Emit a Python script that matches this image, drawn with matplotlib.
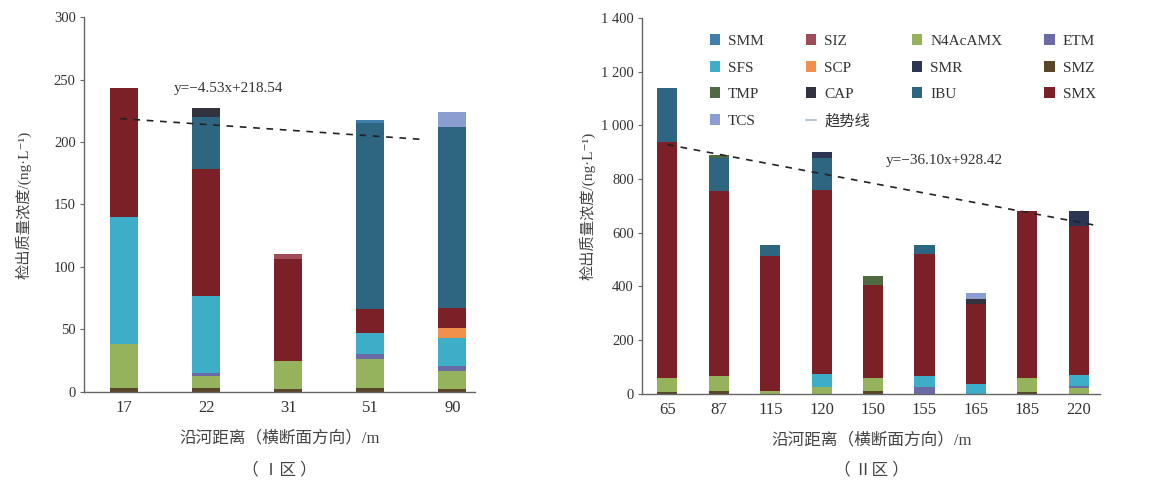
import matplotlib.pyplot as plt
import numpy as np
from matplotlib.lines import Line2D

plt.rcParams['font.family'] = ['Liberation Serif', 'Noto Sans CJK SC', 'DejaVu Sans']

# 化合物顺序（自下而上堆叠）
compounds = ['SMZ', 'N4AcAMX', 'ETM', 'SFS', 'SCP', 'SMX', 'IBU',
             'SMR', 'CAP', 'TMP', 'SMM', 'SIZ', 'TCS']
colors = {
    'SMM': '#3f7fae', 'SIZ': '#a04c58', 'N4AcAMX': '#95b35c', 'ETM': '#6a6aa6',
    'SFS': '#3eaec8', 'SCP': '#f0904a', 'SMR': '#2c3553', 'SMZ': '#5a4528',
    'TMP': '#4d6a43', 'CAP': '#33333f', 'IBU': '#2e6580', 'SMX': '#7b2026',
    'TCS': '#8a9ed2',
}

# Ⅰ区
dist1 = ['17', '22', '31', '51', '90']
zone1 = {
    'SMZ':     [3, 3, 2, 3, 2],
    'N4AcAMX': [35, 10, 23, 23, 15],
    'ETM':     [0, 2, 0, 4, 4],
    'SFS':     [102, 62, 0, 17, 22],
    'SCP':     [0, 0, 0, 0, 8],
    'SMX':     [103, 101, 81, 19, 16],
    'IBU':     [0, 42, 0, 149, 145],
    'SMR':     [0, 0, 0, 0, 0],
    'CAP':     [0, 7, 0, 0, 0],
    'TMP':     [0, 0, 0, 0, 0],
    'SMM':     [0, 0, 0, 3, 0],
    'SIZ':     [0, 0, 4, 0, 0],
    'TCS':     [0, 0, 0, 0, 12],
}
trend1 = (-4.53, 218.54)

# Ⅱ区
dist2 = ['65', '87', '115', '120', '150', '155', '165', '185', '220']
zone2 = {
    'SMZ':     [8, 10, 0, 0, 10, 0, 0, 8, 0],
    'N4AcAMX': [52, 55, 10, 25, 50, 0, 0, 52, 20],
    'ETM':     [0, 0, 0, 0, 0, 25, 0, 0, 10],
    'SFS':     [0, 0, 0, 50, 0, 40, 35, 0, 40],
    'SCP':     [0, 0, 0, 0, 0, 0, 0, 0, 0],
    'SMX':     [880, 690, 505, 685, 345, 455, 300, 620, 555],
    'IBU':     [200, 125, 40, 120, 0, 35, 0, 0, 0],
    'SMR':     [0, 0, 0, 20, 0, 0, 0, 0, 55],
    'CAP':     [0, 0, 0, 0, 0, 0, 20, 0, 0],
    'TMP':     [0, 10, 0, 0, 35, 0, 0, 0, 0],
    'SMM':     [0, 0, 0, 0, 0, 0, 0, 0, 0],
    'SIZ':     [0, 0, 0, 0, 0, 0, 0, 0, 0],
    'TCS':     [0, 0, 0, 0, 0, 0, 20, 0, 0],
}
trend2 = (-36.10, 928.42)

mixed = ['Liberation Serif', 'Noto Sans CJK SC', 'DejaVu Sans']
xlabel = '沿河距离（横断面方向）/m'
ylabel = '检出质量浓度/(ng·L⁻¹)'


def stacked(ax, labels, data, width):
    x = np.arange(len(labels))
    bottom = np.zeros(len(labels))
    bars = {}
    for c in compounds:
        v = np.array(data[c], dtype=float)
        bars[c] = ax.bar(x, v, width, bottom=bottom, color=colors[c], label=c)
        bottom += v
    return x, bars


def style(ax, labels, ymax, step):
    for s in ['top', 'right']:
        ax.spines[s].set_visible(False)
    for s in ['left', 'bottom']:
        ax.spines[s].set_color('#666666')
        ax.spines[s].set_linewidth(1.0)
    ax.set_ylim(0, ymax)
    ax.set_yticks(np.arange(0, ymax + 1, step))
    ax.set_xticks(np.arange(len(labels)))
    ax.set_xticklabels(labels, fontsize=12, color='#333333')
    ax.tick_params(axis='x', length=0, pad=6)
    ax.tick_params(axis='y', length=3, color='#666666', labelsize=10.5,
                   labelcolor='#333333', pad=3)


fig = plt.figure(figsize=(11.51, 4.88), dpi=100)

# 左图 Ⅰ区
ax1 = fig.add_axes([0.073, 0.197, 0.340, 0.768])
x1, _ = stacked(ax1, dist1, zone1, 0.34)
style(ax1, dist1, 300, 50)
ax1.set_xlim(-0.49, 4.28)
tx = np.array([-0.05, 3.6])
ax1.plot(tx, trend1[0] * tx + trend1[1], ls=(0, (4, 4)), color='#222222', lw=1.2)
ax1.text(0.6, 243, 'y=−4.53x+218.54', fontsize=11, color='#333333', va='center')
ax1.set_xlabel(xlabel, family=mixed, fontsize=12, color='#444444', labelpad=10)
ax1.set_ylabel(ylabel, family=mixed, fontsize=11, color='#444444', labelpad=16)
fig.text(0.243, 0.028, '（ Ⅰ区 ）', family=mixed, fontsize=12, color='#444444', ha='center')

# 右图 Ⅱ区
ax2 = fig.add_axes([0.558, 0.193, 0.398, 0.770])
x2, bars2 = stacked(ax2, dist2, zone2, 0.39)
style(ax2, dist2, 1400, 200)
ax2.set_xlim(-0.49, 8.42)
ax2.set_yticklabels([f'{v:,}'.replace(',', ' ') for v in range(0, 1401, 200)])
tx2 = np.array([0.0, 8.3])
ax2.plot(tx2, trend2[0] * tx2 + trend2[1], ls=(0, (4, 4)), color='#222222', lw=1.2)
ax2.text(4.25, 871, 'y=−36.10x+928.42', fontsize=11, color='#333333', va='center')
ax2.set_xlabel(xlabel, family=mixed, fontsize=12, color='#444444', labelpad=10)
ax2.set_ylabel(ylabel, family=mixed, fontsize=11, color='#444444', labelpad=4)
fig.text(0.757, 0.028, '（ Ⅱ区 ）', family=mixed, fontsize=12, color='#444444', ha='center')

# 图例（按行排列）
order = ['SMM', 'SFS', 'TMP', 'TCS', 'SIZ', 'SCP', 'CAP', None,
         'N4AcAMX', 'SMR', 'IBU', 'ETM', 'SMZ', 'SMX']
handles, names = [], []
for c in order:
    if c is None:
        handles.append(Line2D([], [], color='#a9bccc', lw=1.2))
        names.append('趋势线')
    else:
        handles.append(bars2[c])
        names.append(c)
leg = ax2.legend(handles, names, ncol=4, loc='upper left',
                 bbox_to_anchor=(0.117, 0.993), frameon=False, fontsize=11,
                 handlelength=0.7, handleheight=0.7, handletextpad=0.5,
                 labelspacing=0.84, columnspacing=2.75)
for t in leg.get_texts():
    t.set_color('#333333')
    t.set_fontfamily(mixed)

fig.savefig('out.png', dpi=100)
